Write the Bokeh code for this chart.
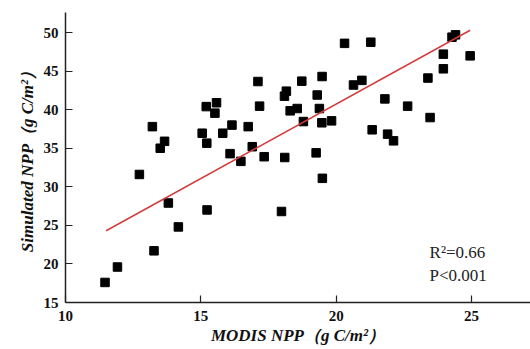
from bokeh.plotting import figure
from bokeh.models import FixedTicker, Range1d, Label, ColumnDataSource
from bokeh.embed import file_html
from bokeh.resources import INLINE

modis_npp = [11.46, 11.92, 13.27, 14.17, 13.80, 15.23, 12.73, 17.98, 16.08, 16.48,
             17.34, 18.10, 17.11, 15.20, 15.58, 15.52, 17.17, 18.16, 18.09, 18.30,
             18.56, 18.73, 13.21, 13.66, 13.50, 15.05, 15.22, 15.81, 16.15, 16.75,
             16.90, 20.31, 21.28, 24.28, 24.41, 23.96, 24.95, 23.96, 23.39, 19.48,
             20.64, 20.95, 19.30, 21.80, 22.64, 19.38, 18.79, 19.47, 19.83, 23.47,
             21.33, 21.90, 22.12, 19.26, 19.49]
simulated_npp = [17.6, 19.6, 21.7, 24.8, 27.9, 27.0, 31.6, 26.8, 34.3, 33.3,
                 33.9, 33.8, 43.65, 40.4, 40.9, 39.55, 40.46, 42.4, 41.75, 39.85,
                 40.15, 43.7, 37.8, 35.9, 35.0, 36.95, 35.66, 36.95, 38.0, 37.8,
                 35.2, 48.6, 48.75, 49.4, 49.7, 47.2, 46.98, 45.3, 44.1, 44.3,
                 43.2, 43.8, 41.9, 41.4, 40.46, 40.15, 38.46, 38.3, 38.55, 38.98,
                 37.39, 36.83, 35.96, 34.4, 31.1]
fit_x = [11.5, 24.95]
fit_y = [24.3, 50.3]
x_ticks = [10, 15, 20, 25]
y_ticks = [15, 20, 25, 30, 35, 40, 45, 50]
r2_text = "R²=0.66"
p_text = "P<0.001"

SERIF = "Liberation Serif"

p = figure(width=530, height=349, output_backend="svg", toolbar_location=None,
           x_range=Range1d(10, 27.18), y_range=Range1d(15, 52.6),
           min_border_left=65, min_border_right=0, min_border_top=12, min_border_bottom=47)
p.outline_line_color = None
p.xgrid.visible = False
p.ygrid.visible = False
p.background_fill_color = "white"

src = ColumnDataSource(dict(x=modis_npp, y=simulated_npp))
p.scatter("x", "y", source=src, marker="square", size=8.5, fill_color="black", line_color="black")
p.line(fit_x, fit_y, line_color="#d23c3c", line_width=1.5)

p.xaxis.ticker = FixedTicker(ticks=x_ticks)
p.yaxis.ticker = FixedTicker(ticks=y_ticks)
for ax in (p.xaxis[0], p.yaxis[0]):
    ax.axis_line_color = "#222222"
    ax.axis_line_width = 1.5
    ax.major_tick_line_color = "#222222"
    ax.major_tick_line_width = 1.2
    ax.major_tick_in = 7
    ax.major_tick_out = 0
    ax.minor_tick_line_color = None
    ax.major_label_text_font = SERIF
    ax.major_label_text_font_style = "bold"
    ax.major_label_text_font_size = "15px"
    ax.major_label_text_color = "#111111"
    ax.axis_label_text_font = SERIF
    ax.axis_label_text_font_style = "bold italic"
    ax.axis_label_text_font_size = "17px"
    ax.axis_label_text_color = "#111111"

p.xaxis.axis_label = "MODIS NPP（g C/m²）"
p.yaxis.axis_label = "Simulated NPP（g C/m²）"
p.xaxis.major_label_standoff = 8
p.yaxis.major_label_standoff = 7
p.xaxis.axis_label_standoff = 2
p.yaxis.axis_label_standoff = 4

p.add_layout(Label(x=23.45, y=20.3, text=r2_text, text_font=SERIF, text_font_size="17px",
                   text_color="#222222"))
p.add_layout(Label(x=23.45, y=17.3, text=p_text, text_font=SERIF, text_font_size="17px",
                   text_color="#222222"))

open("out.html", "w").write(file_html(p, INLINE))
